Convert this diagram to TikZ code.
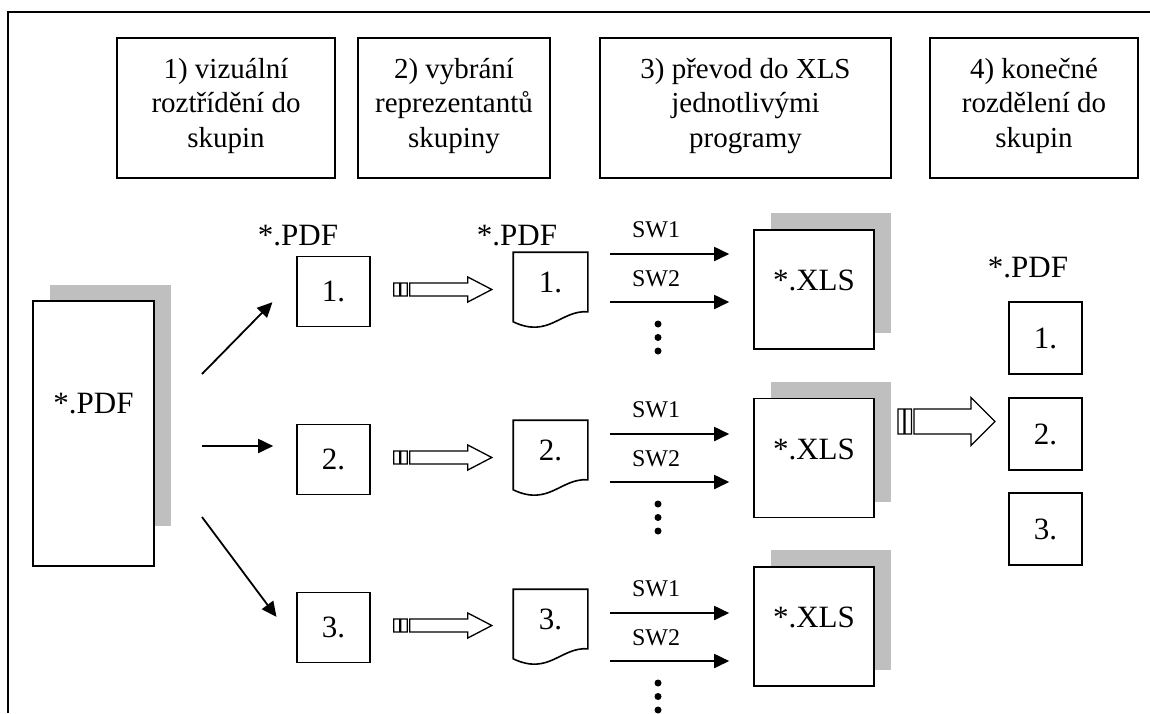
\documentclass[tikz,border=0pt]{standalone}
\usepackage{fontspec}
\setmainfont{Liberation Serif}
\usetikzlibrary{arrows.meta,calc}

\tikzset{
  hdr/.style={draw,line width=1.6pt,minimum height=140pt,inner sep=0pt,align=center,font=\fontsize{29}{34.5}\selectfont,execute at end node={\rule[-11pt]{0pt}{11pt}}},
  sheet/.style={draw,fill=white,line width=1.6pt,minimum width=73pt,minimum height=70pt,inner sep=0pt,font=\fontsize{31}{36}\selectfont},
  xls/.style={draw,fill=white,line width=1.6pt,minimum width=120pt,minimum height=119pt,inner sep=0pt,text depth=18pt,font=\fontsize{31}{36}\selectfont},
  lbl/.style={inner sep=0pt,font=\fontsize{31}{36}\selectfont},
  swlbl/.style={inner sep=0pt,font=\fontsize{24}{28}\selectfont},
  flow/.style={line width=1.8pt,-{Triangle[length=15pt,width=14pt]}},
  shade/.style={fill=black!25}
}

\newcommand{\stripedarrow}[4]{%
  \draw[line width=1.3pt,shift={#1}] (0,-#3) rectangle (6,#3) (7,-#3) rectangle (13.5,#3)
    (16,-#3) -- ({#2-24},-#3) -- ({#2-24},-#4) -- (#2,0) -- ({#2-24},#4) -- ({#2-24},#3) -- (16,#3) -- cycle;}

\begin{document}
\begin{tikzpicture}[x=1pt,y=-1pt]
\useasboundingbox (0,0) rectangle (1150,713);
\draw[line width=1.2pt] (8,713) -- (8,12) -- (1150,12);

% steps
\node[hdr,minimum width=218pt] (H1) at (226,108) {1) vizuální\\roztřídění do\\skupin};
\node[hdr,minimum width=192pt] (H2) at (454,108) {2) vybrání\\reprezentantů\\skupiny};
\node[hdr,minimum width=291pt] (H3) at (745.5,108) {3) převod do XLS\\jednotlivými\\programy};
\node[hdr,minimum width=208pt] (H4) at (1034,108) {4) konečné\\rozdělení do\\skupin};

% source file
\fill[shade] (50,285) rectangle (171,526);
\node[sheet,minimum width=121pt,minimum height=265pt,text depth=61pt] (PDF) at (93.5,433.5) {*.PDF};

% groups
\node[lbl] (pdfA) at (298,236) {*.PDF};
\node[sheet] (A1) at (333.5,291.5) {1.};
\node[sheet] (A2) at (333.5,459.5) {2.};
\node[sheet] (A3) at (333.5,627.5) {3.};

% representatives
\node[lbl] (pdfB) at (517,236) {*.PDF};
\node[sheet,draw=none,fill=none,minimum height=58pt] (B1) at (550.5,282) {1.};
\node[sheet,draw=none,fill=none,minimum height=58pt] (B2) at (550.5,450) {2.};
\node[sheet,draw=none,fill=none,minimum height=58pt] (B3) at (550.5,619) {3.};

% spreadsheets
\foreach \dy in {0,168.5,337}
  \fill[shade] (771,{213+\dy}) rectangle (891,{333+\dy});
\node[xls] (X1) at (814,289.5) {*.XLS};
\node[xls] (X2) at (814,458) {*.XLS};
\node[xls] (X3) at (814,626.5) {*.XLS};

% result
\node[lbl] (pdfF) at (1028,268) {*.PDF};
\node[sheet,minimum height=72pt] (F1) at (1045.5,338) {1.};
\node[sheet,minimum height=72pt] (F2) at (1045.5,434) {2.};
\node[sheet,minimum height=72pt] (F3) at (1045.5,529) {3.};

\foreach \n in {B1,B2,B3}
  \draw[line width=1.6pt] (\n.north west) -- (\n.north east) -- (\n.south east)
    .. controls ($(\n.south east)+(-27,-2)$) and ($(\n.south east)+(-39,27)$) .. ($(\n.south west)+(0,10)$) -- cycle;

\coordinate (s1) at (202,374);
\coordinate (s2) at (202,446);
\coordinate (s3) at (202,517);
\draw[flow,shorten >=34pt] (s1) -- (A1.160);
\draw[flow,shorten >=23pt] (s2) -- (s2 -| A2.west);
\draw[flow,shorten >=33pt] (s3) -- (A3.203);

\foreach \a in {1,2,3}
  \stripedarrow{($(A\a.east)+(23,-2)$)}{98}{6.5}{12.5};
\stripedarrow{(898,421.5)}{97}{12.5}{24};

\foreach \r/\dy in {1/0,2/180,3/359} {
  \node[swlbl] (swa\r) at (656,{230+\dy}) {SW1};
  \node[swlbl] (swb\r) at (656,{279+\dy}) {SW2};
  \coordinate (ta\r) at (610,{254+\dy});
  \coordinate (tb\r) at (610,{302+\dy});
  \draw[flow,shorten >=24pt] (ta\r) -- (ta\r -| X\r.west);
  \draw[flow,shorten >=24pt] (tb\r) -- (tb\r -| X\r.west);
  \foreach \dd in {0,13.5,27}
    \fill (658,{324+\dy+\dd}) circle (3.5pt);
}
\end{tikzpicture}
\end{document}
